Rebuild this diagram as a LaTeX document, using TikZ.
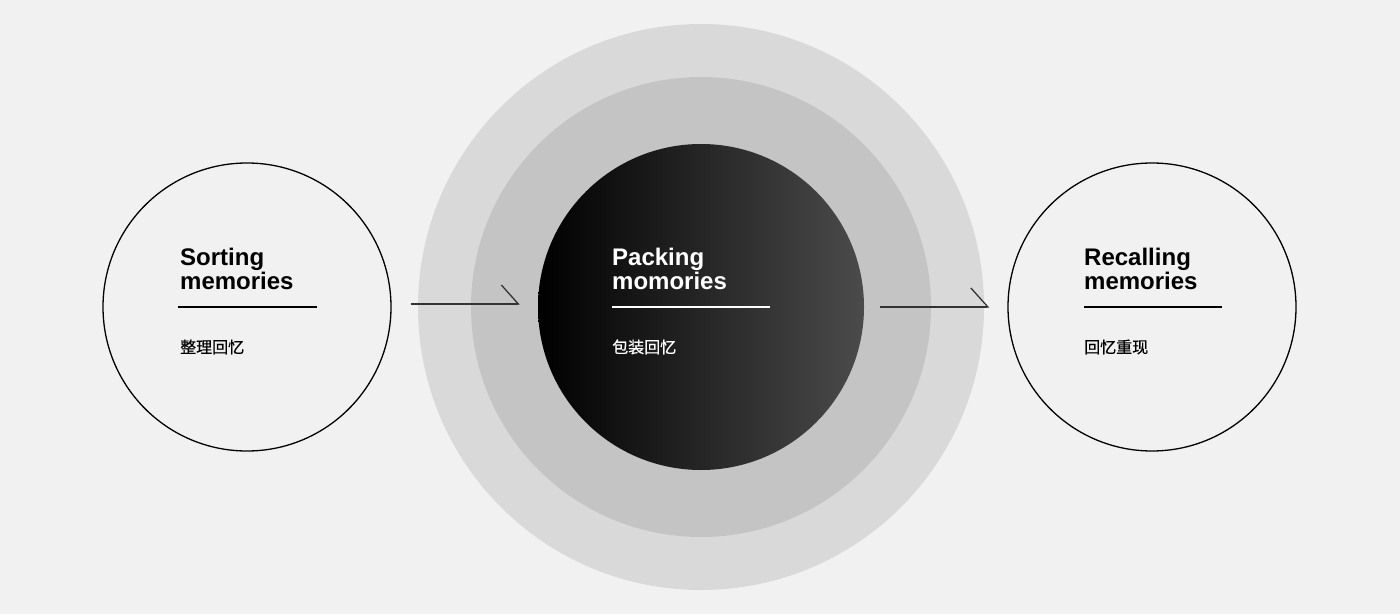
\documentclass[tikz,border=0pt]{standalone}
\usepackage{fontspec}
\setmainfont{Liberation Sans}
\newfontfamily\cjk[FakeBold=0.6]{Noto Sans CJK SC}
\usetikzlibrary{arrows.meta,positioning,calc}
\definecolor{bg}{HTML}{F1F1F1}
\definecolor{haloout}{HTML}{D9D9D9}
\definecolor{haloin}{HTML}{C4C4C4}
\definecolor{coreright}{HTML}{4B4B4B}
\tikzset{
  ring/.style={circle, draw=black, line width=1.3pt, minimum size=288pt, inner sep=0pt},
  halo/.style={circle, inner sep=0pt},
  ttl/.style={anchor=base west, align=left, inner sep=0pt, font=\fontsize{24}{24}\selectfont\bfseries},
  sub/.style={anchor=base west, inner sep=0pt, font=\fontsize{16}{16}\selectfont\cjk},
  rule/.style={line width=1.5pt},
  arr/.style={-{Straight Barb[left, length=17pt, width=38pt]}, line width=1.3pt, draw=black!80}
}
\begin{document}
\begin{tikzpicture}[x=1pt, y=1pt]
\fill[bg] (0,0) rectangle (1400,614);
\useasboundingbox (0,0) rectangle (1400,614);
% stages
\node[ring] (sort) at (247,307) {};
\node[halo, fill=haloout, minimum size=566pt] (outer) at (701,307) {};
\node[halo, fill=haloin, minimum size=460pt] (mid) at (701,307) {};
\node[halo, minimum size=326pt, left color=black, right color=coreright] (pack) at (701,307) {};
\node[ring] (rec) at (1152,307) {};
% texts
\node[ttl] (sortT) at (180,324) {Sorting\\memories};
\node[sub] (sortS) at (180,261) {整理回忆};
\node[ttl, text=white] (packT) at (612,324) {Packing\\momories};
\node[sub, text=white] (packS) at (612,261) {包装回忆};
\node[ttl] (recT) at (1084,324) {Recalling\\memories};
\node[sub] (recS) at (1084,261) {回忆重现};
\draw[rule] (178,307) -- (317,307);
\draw[rule, white] (612,307) -- (770,307);
\draw[rule] (1084,307) -- (1222,307);
% flow
\draw[arr] ($(sort.east)+(19,3)$) -- ($(pack.west)+(-18,3)$);
\draw[arr] ($(pack.east)+(16,0)$) -- ($(rec.west)+(-18,0)$);
\end{tikzpicture}
\end{document}
